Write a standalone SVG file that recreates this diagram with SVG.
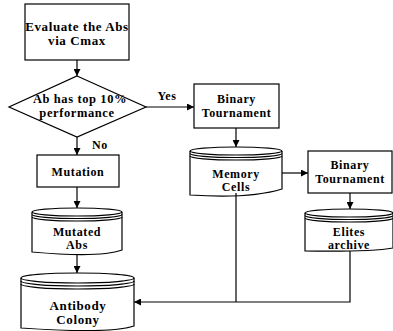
<svg xmlns="http://www.w3.org/2000/svg" width="393" height="331" viewBox="0 0 393 331">
<defs>
<marker id="ah" viewBox="0 0 10 10" refX="10" refY="5" markerWidth="7" markerHeight="7" markerUnits="userSpaceOnUse" orient="auto">
<path d="M0,0 L10,5 L0,10 Z" fill="#000"/>
</marker>
</defs>
<style>
.s{fill:#fff;stroke:#000;stroke-width:1.2}
.l{fill:none;stroke:#000;stroke-width:1.2}
.c{fill:none;stroke:#000;stroke-width:1.2;marker-end:url(#ah)}
.t{font-family:'Liberation Serif','Times New Roman','DejaVu Serif',serif;font-weight:bold;font-size:12px;text-anchor:middle;letter-spacing:0.6px;fill:#000}
</style>
<rect width="393" height="331" fill="#fff"/>
<g id="evaluate">
<rect class="s" x="25" y="4" width="104" height="56"/>
<text class="t" x="77" y="31" style="font-size:13px">Evaluate the Abs</text>
<text class="t" x="77" y="45" style="font-size:13px">via Cmax</text>
</g>
<g id="decision">
<polygon class="s" points="77,76 146,107 77,137 9,107"/>
<text class="t" x="80" y="103" style="font-size:12.5px">Ab has top 10%</text>
<text class="t" x="77" y="117" style="font-size:12.5px">performance</text>
</g>
<g id="mutation">
<rect class="s" x="37" y="155" width="82" height="32"/>
<text class="t" x="78" y="176">Mutation</text>
</g>
<g id="binary1">
<rect class="s" x="194" y="84" width="85" height="44"/>
<text class="t" x="236.5" y="103">Binary</text>
<text class="t" x="236.5" y="117">Tournament</text>
</g>
<g id="memory">
<path class="s" d="M190,151 A46,4 0 0 1 282,151 L282,189 Q250,199 190,195 Z"/>
<path class="l" d="M190,151 A46,4 0 0 0 282,151 M190,153.5 A46,4 0 0 0 282,153.5 M190,156 A46,4 0 0 0 282,156"/>
<text class="t" x="236" y="178">Memory</text>
<text class="t" x="236" y="191">Cells</text>
</g>
<g id="binary2">
<rect class="s" x="308" y="151" width="84" height="42"/>
<text class="t" x="350" y="169">Binary</text>
<text class="t" x="350" y="183">Tournament</text>
</g>
<g id="elites">
<path class="s" d="M305,213 A44,4 0 0 1 393,213 L393,248 Q370,252 305,251 Z"/>
<path class="l" d="M305,213 A44,4 0 0 0 393,213 M305,215.5 A44,4 0 0 0 393,215.5 M305,218 A44,4 0 0 0 393,218"/>
<text class="t" x="349" y="236">Elites</text>
<text class="t" x="349" y="249">archive</text>
</g>
<g id="mutated">
<path class="s" d="M32,212 A45,4 0 0 1 122,212 L122,250 Q100,258 32,252 Z"/>
<path class="l" d="M32,212 A45,4 0 0 0 122,212 M32,214.5 A45,4 0 0 0 122,214.5 M32,217 A45,4 0 0 0 122,217"/>
<text class="t" x="77" y="236">Mutated</text>
<text class="t" x="77" y="249">Abs</text>
</g>
<g id="colony">
<path class="s" d="M21,278 A56.5,5 0 0 1 134,278 L134,326 Q110,334 21,328 Z"/>
<path class="l" d="M21,278 A56.5,5 0 0 0 134,278 M21,281 A56.5,5 0 0 0 134,281 M21,284 A56.5,5 0 0 0 134,284"/>
<text class="t" x="78" y="310" style="font-size:13px">Antibody</text>
<text class="t" x="78" y="324" style="font-size:13px">Colony</text>
</g>
<g id="connectors">
<line class="c" x1="77" y1="60" x2="77" y2="76"/>
<line class="c" x1="77" y1="137" x2="77" y2="155"/>
<line class="c" x1="146" y1="107" x2="194" y2="107"/>
<line class="c" x1="236" y1="128" x2="236" y2="147"/>
<line class="c" x1="77" y1="187" x2="77" y2="208"/>
<line class="c" x1="77" y1="254" x2="77" y2="273"/>
<line class="c" x1="282" y1="173" x2="308" y2="173"/>
<line class="c" x1="350" y1="193" x2="350" y2="209"/>
<polyline class="l" points="236,193 236,302"/>
<polyline class="c" points="350,251 350,302 134,302"/>
<text class="t" x="167" y="100">Yes</text>
<text class="t" x="100" y="149">No</text>
</g>
</svg>
